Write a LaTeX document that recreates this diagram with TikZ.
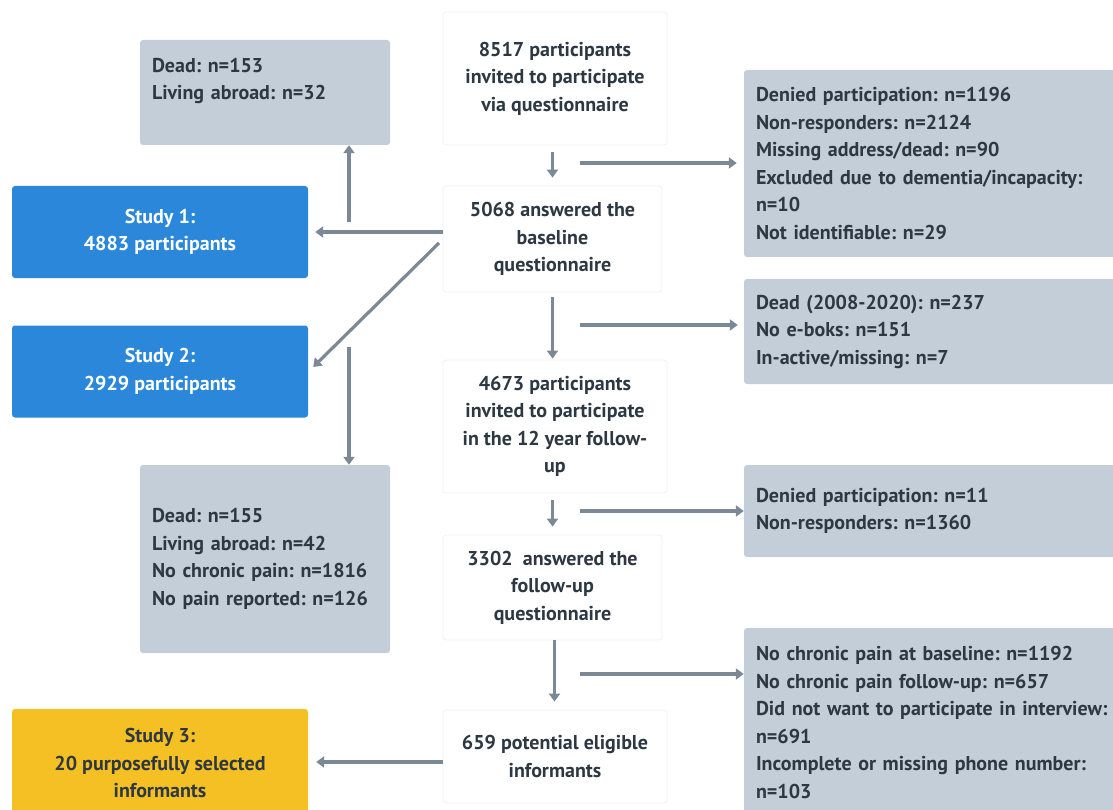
\documentclass[tikz,border=0pt]{standalone}
\usepackage{fontspec}
\setmainfont{PT Sans}
\usetikzlibrary{arrows.meta}
\frenchspacing

\definecolor{boxgray}{RGB}{196,206,216}
\definecolor{studyblue}{RGB}{43,135,218}
\definecolor{studyyellow}{RGB}{245,192,36}
\definecolor{arrowc}{RGB}{123,137,150}
\definecolor{ink}{RGB}{45,56,66}
\definecolor{faint}{RGB}{240,241,243}

\begin{document}
\begin{tikzpicture}[x=1pt,y=-1pt,
  every node/.style={font=\fontsize{20}{27.5}\selectfont\bfseries},
  cbox/.style={rounded corners=3pt, inner sep=0pt},
  whitebox/.style={cbox, fill=white, draw=faint, line width=0.8pt, align=center, text=ink},
  graybox/.style 2 args={cbox, fill=boxgray, align=left, text=ink, inner xsep=12pt,
    text width=#1, minimum height=#2},
  bluebox/.style={cbox, fill=studyblue, text=white, align=center,
    minimum width=296pt, minimum height=92pt},
  yellowbox/.style={cbox, fill=studyyellow, text=ink, align=center,
    minimum width=296pt, minimum height=108pt},
  arr/.style={draw=arrowc, line width=3.2pt, -{Triangle[width=11pt,length=8pt]}}
]
\useasboundingbox (0,0) rectangle (1113,810);

% main column
\node[whitebox, minimum width=224pt, minimum height=133pt] (inv) at (555,78.5)
  {8517 participants\\invited to participate\\via questionnaire};
\node[whitebox, minimum width=219pt, minimum height=106pt] (base) at (552.5,239)
  {5068 answered the\\baseline\\questionnaire};
\node[whitebox, minimum width=224pt, minimum height=133pt] (fu) at (555,426.5)
  {4673 participants\\invited to participate\\in the 12 year follow-\\up};
\node[whitebox, minimum width=219pt, minimum height=105pt] (ans) at (552.5,587.5)
  {3302~ answered the\\follow-up\\questionnaire};
\node[whitebox, minimum width=224pt, minimum height=93pt] (elig) at (555,756.5)
  {659 potential eligible\\informants};

% studies
\node[bluebox] (st1) at (160,232) {Study 1:\\4883 participants};
\node[bluebox] (st2) at (160,371.5) {Study 2:\\2929 participants};
\node[yellowbox] (st3) at (160,763) {Study 3:\\20 purposefully selected\\informants};

% exclusions, left
\node[graybox={226pt}{105pt}] (ex0) at (265,92.5)
  {Dead: n=153\\Living abroad: n=32\\\mbox{}};
\node[graybox={226pt}{188pt}] (ex3) at (265,559)
  {Dead: n=155\\Living abroad: n=42\\No chronic pain: n=1816\\No pain reported: n=126};

% exclusions, right
\node[graybox={380pt}{187pt}] (ex1) at (946,163.5)
  {Denied participation: n=1196\\Non-responders: n=2124\\Missing address/dead: n=90\\Excluded due to dementia/incapacity:\\n=10\\Not identifiable: n=29};
\node[graybox={380pt}{105pt}] (ex2) at (946,331.5)
  {Dead (2008-2020): n=237\\No e-boks: n=151\\In-active/missing: n=7};
\node[graybox={380pt}{92pt}] (ex4) at (946,511)
  {Denied participation: n=11\\Non-responders: n=1360};
\node[graybox={380pt}{189pt}] (ex5) at (946,722.5)
  {No chronic pain at baseline: n=1192\\No chronic pain follow-up: n=657\\Did not want to participate in interview:\\n=691\\Incomplete or missing phone number:\\n=103};

% free arrow ends
\coordinate (h1) at (580,163);
\coordinate (h2) at (580,325);
\coordinate (h3) at (580,511);
\coordinate (h4) at (580,674);
\coordinate (s1) at (443,232);
\coordinate (u0) at (349,222);
\coordinate (u1) at (349,347);
\coordinate (d0) at (439,243);

% flow down the main column
\draw[arr, shorten <=7pt, shorten >=8pt] (base.north |- inv.south) -- (base.north);
\draw[arr, shorten <=5pt, shorten >=1pt] (base.south) -- (base.south |- fu.north);
\draw[arr, shorten <=7pt, shorten >=8pt] (ans.north |- fu.south) -- (ans.north);
\draw[arr, shorten <=0pt, shorten >=8pt] ([xshift=2pt]ans.south) -- ([xshift=2pt]ans.south |- elig.north);

% exclusion arrows
\draw[arr, shorten >=7pt] (h1) -- (h1 -| ex1.west);
\draw[arr, shorten >=6pt] (h2) -- (h2 -| ex2.west);
\draw[arr] (h3) -- (h3 -| ex4.west);
\draw[arr] (h4) -- (h4 -| ex5.west);

% arrows to the studies
\draw[arr, shorten >=7pt] (s1) -- (s1 -| st1.east);
\draw[arr] (u0) -- (u0 |- ex0.south);
\draw[arr] (d0) -- ([shift={(5,-4.5)}]st2.east);
\draw[arr] (u1) -- (u1 |- ex3.north);
\draw[arr, shorten >=8pt] (elig.west |- 0,762) -- (st3.east |- 0,762);
\end{tikzpicture}
\end{document}
